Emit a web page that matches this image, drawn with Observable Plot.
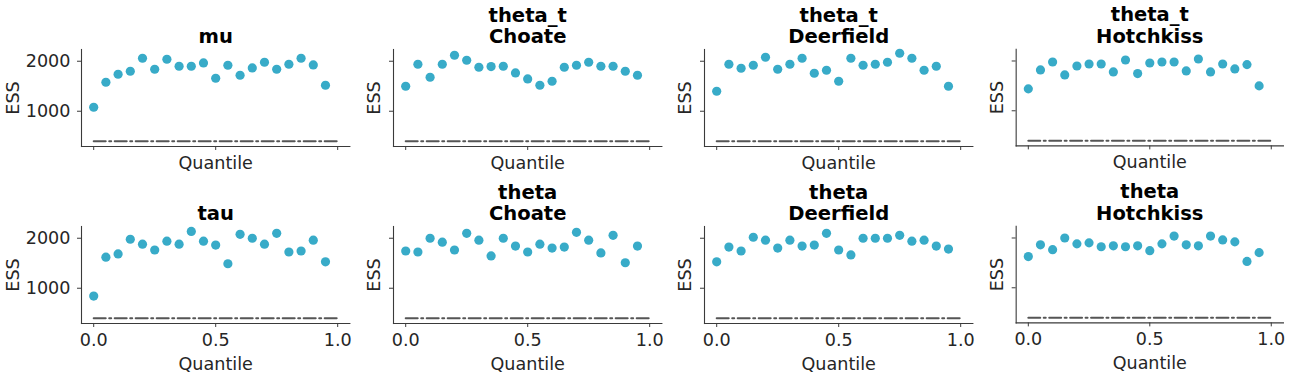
<!DOCTYPE html>
<html><head><meta charset="utf-8">
<script src="https://cdn.jsdelivr.net/npm/d3@7"></script>
<script src="https://cdn.jsdelivr.net/npm/@observablehq/plot@0.6"></script>
<style>
body{margin:0;background:#fff}
#fig{position:relative;width:1295px;height:376px;overflow:hidden;background:#fff}
.cell{position:absolute}
.cell svg{overflow:visible;background:transparent}
</style>
</head><body><div id="fig"></div>
<script>
// ---- data ----
const quantiles = [0,0.05,0.1,0.15,0.2,0.25,0.3,0.35,0.4,0.45,0.5,0.55,0.6,0.65,0.7,0.75,0.8,0.85,0.9,0.95];
const titles = ["mu","theta_t\nChoate","theta_t\nDeerfield","theta_t\nHotchkiss","tau","theta\nChoate","theta\nDeerfield","theta\nHotchkiss"];
const essMu            = [1080,1580,1740,1800,2060,1840,2040,1900,1900,1967,1660,1920,1720,1867,1980,1840,1940,2060,1927,1520];
const essThetaTChoate  = [1500,1940,1680,1940,2120,2020,1880,1893,1900,1767,1647,1520,1600,1880,1920,1980,1900,1900,1800,1720];
const essThetaTDeerf   = [1400,1940,1860,1920,2080,1840,1940,2060,1760,1820,1600,2060,1920,1940,1980,2160,2060,1820,1900,1500];
const essThetaTHotch   = [1440,1820,1980,1720,1900,1940,1940,1780,2020,1747,1960,1980,1980,1800,2040,1780,1940,1840,1927,1500];
const essTau           = [843,1621,1686,1980,1882,1765,1941,1882,2137,1941,1863,1490,2078,2000,1882,2098,1725,1745,1961,1529];
const essThetaChoate   = [1745,1725,2000,1922,1765,2098,1961,1647,2000,1843,1725,1882,1804,1824,2118,1961,1706,2059,1510,1843];
const essThetaDeerf    = [1529,1824,1745,2020,1961,1804,1961,1843,1863,2098,1765,1667,2000,2000,2000,2059,1941,1961,1843,1784];
const essThetaHotch    = [1627,1863,1765,2000,1882,1902,1824,1843,1824,1843,1745,1882,2039,1863,1843,2039,1961,1922,1529,1706];
const essThreshold = 400;
const quantileRange = [0, 1];
const xTicks = [0, 0.5, 1];
const yTicks = [1000, 2000];
const xLabel = "Quantile";
const yLabel = "ESS";

const series = [essMu, essThetaTChoate, essThetaTDeerf, essThetaTHotch, essTau, essThetaChoate, essThetaDeerf, essThetaHotch];

// ---- layout ----
const fig = document.getElementById("fig");
const mL = 81, mT = 49, mR = 12, mB = 45, fw = 268.4, fh = 97;
const colLeft = c => 81.1 + c * 311.67;
const rowTop = r => 49 + r * 176.5;
const pointColor = "#38abc8";
const font = "DejaVu Sans";

series.forEach((vals, i) => {
  const r = Math.floor(i / 4), c = i % 4;
  const data = quantiles.map((q, k) => ({q, ess: vals[k]}));
  const thr = quantileRange.map(q => ({q, ess: essThreshold}));
  const showY = c === 0, showX = r === 1;
  const plot = Plot.plot({
    width: mL + fw + mR,
    height: mT + fh + mB,
    marginLeft: mL, marginTop: mT, marginRight: mR, marginBottom: mB,
    style: {fontFamily: font, background: "transparent", overflow: "visible"},
    x: {domain: [-0.05, 1.05]},
    y: {domain: [295, 2235]},
    marks: [
      Plot.frame({anchor: "left", stroke: "#3a3a3a", strokeWidth: 1.1}),
      Plot.frame({anchor: "bottom", stroke: "#3a3a3a", strokeWidth: 1.1}),
      Plot.axisX({ticks: xTicks, tickSize: 4, tickPadding: 6, label: null,
        tickFormat: showX ? d3.format(".1f") : () => "", fontSize: 17.6, color: "#262626", stroke: "#3a3a3a"}),
      Plot.axisY({ticks: yTicks, tickSize: 4, tickPadding: 7, label: null,
        tickFormat: showY ? d3.format("d") : () => "", fontSize: 17.6, color: "#262626", stroke: "#3a3a3a"}),
      Plot.line(thr, {x: "q", y: "ess", stroke: "#555", strokeWidth: 2, strokeDasharray: "12,3.5,2,3.5"}),
      Plot.dot(data, {x: "q", y: "ess", r: 4.6, fill: pointColor, stroke: "none"}),
      Plot.text([yLabel], {frameAnchor: "left", rotate: -90, dx: showY ? -68 : -19,
        fontSize: 17.6, fill: "#262626", textAnchor: "middle", lineAnchor: "middle"}),
      Plot.text([xLabel], {frameAnchor: "bottom", dy: showX ? 41 : 17,
        fontSize: 17.6, fill: "#262626", textAnchor: "middle", lineAnchor: "middle"}),
      Plot.text([titles[i]], {frameAnchor: "top", dy: -6, lineAnchor: "bottom", lineHeight: 1.12,
        fontSize: 19.6, fontWeight: "bold", fill: "#000", textAnchor: "middle"})
    ]
  });
  const cell = document.createElement("div");
  cell.className = "cell";
  cell.style.left = (colLeft(c) - mL) + "px";
  cell.style.top = (rowTop(r) - mT) + "px";
  cell.appendChild(plot);
  fig.appendChild(cell);
});
</script>
</body></html>
